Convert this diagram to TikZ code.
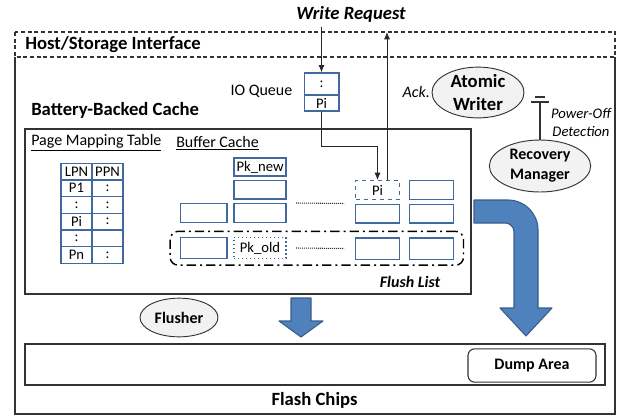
\documentclass[tikz,border=0pt]{standalone}
\usepackage{fontspec}
\setmainfont{Carlito}
\usetikzlibrary{shapes.geometric,arrows.meta,fit}

\definecolor{boxblue}{RGB}{65,105,160}
\definecolor{arrowblue}{RGB}{79,129,189}
\definecolor{arrowedge}{RGB}{56,93,138}
\definecolor{procgray}{RGB}{242,242,242}

\begin{document}
\begin{tikzpicture}[x=0.75pt,y=-0.75pt,
    arr/.style={-{Latex[length=5.5pt,width=4.5pt]}, line width=0.6pt, black!85},
    boxline/.style={line width=0.8pt, black!80},
    proc/.style={ellipse, draw=black!80, line width=0.7pt, fill=procgray, inner sep=0pt, align=center},
    buf/.style={draw=boxblue, line width=1pt, minimum width=35pt, minimum height=14pt, inner sep=0pt, font=\fontsize{11}{13}\selectfont},
    cell/.style={draw=boxblue, line width=1pt, minimum width=23.25pt, minimum height=12.5pt, inner sep=0pt, font=\fontsize{11}{13}\selectfont},
    flushlist/.style={draw=black, line width=1.1pt, rounded corners=6pt, dash pattern=on 7pt off 3pt on 1.5pt off 3pt},
    bigarrow/.style={fill=arrowblue, draw=arrowedge, line width=0.8pt, line join=round},
    dotrow/.style={black!80, line width=0.8pt, dash pattern=on 0.75pt off 0.75pt}]
  \useasboundingbox (0,0) rectangle (624,418);

  \node[font=\fontsize{14}{16}\selectfont\bfseries\itshape] (wr) at (351,14) {Write Request};

  % interface strip and controller frame
  \draw[boxline, dash pattern=on 3pt off 2pt] (15,32) rectangle (615,57);
  \draw[boxline] (15,57) -- (15,414) -- (615,414) -- (615,57);
  \node[anchor=west, inner sep=0pt, font=\fontsize{14}{16}\selectfont\bfseries] (hsi) at (25,45) {Host/Storage Interface};
  \node[anchor=west, inner sep=0pt, font=\fontsize{14}{16}\selectfont\bfseries] (bbc) at (31,110) {Battery-Backed Cache};

  % IO queue
  \node[buf, minimum width=26pt, minimum height=16.5pt] (q1) at (321.5,84) {:};
  \node[buf, minimum width=26pt, minimum height=12pt] (q2) at (321.5,103) {Pi};
  \node[anchor=east, font=\fontsize{12}{14}\selectfont] (ioq) at (297,91) {IO Queue};

  % cache area
  \draw[boxline] (25,129) rectangle (471,294);
  \node[anchor=west, inner sep=0pt, font=\fontsize{12}{14}\selectfont] (pmt) at (31,143) {\underline{Page Mapping Table}};
  \node[anchor=west, inner sep=0pt, font=\fontsize{12}{14}\selectfont] (bc) at (176,143) {\underline{Buffer Cache}};

  \node[cell] (t00) at (76.5,171.5) {LPN};
  \node[cell] (t01) at (107.5,171.5) {PPN};
  \node[cell] (t10) at (76.5,188.2) {P1};
  \node[cell] (t11) at (107.5,188.2) {:};
  \node[cell] (t20) at (76.5,204.9) {:};
  \node[cell] (t21) at (107.5,204.9) {:};
  \node[cell] (t30) at (76.5,221.6) {Pi};
  \node[cell] (t31) at (107.5,221.6) {:};
  \node[cell] (t40) at (76.5,238.3) {:};
  \node[cell] (t41) at (107.5,238.3) {};
  \node[cell] (t50) at (76.5,255) {Pn};
  \node[cell] (t51) at (107.5,255) {:};

  \node[buf, minimum width=39pt, minimum height=13.5pt] (pknew) at (260,167) {Pk\_new};
  \node[buf, minimum width=39pt] (b1) at (260,189.5) {};
  \node[buf, dashed, minimum width=33pt] (pib) at (377.5,190) {Pi};
  \node[buf, minimum width=33pt] (d1) at (431.5,190) {};
  \node[buf] (a2) at (203.5,213) {};
  \node[buf, minimum width=39pt] (b2) at (260,213) {};
  \node[buf, minimum width=33pt] (c2) at (377.5,213.5) {};
  \node[buf, minimum width=33pt] (d2) at (431.5,213.5) {};
  \node[buf, minimum height=16pt] (a3) at (203.5,248) {};
  \node[buf, dotted, minimum width=39pt, minimum height=16pt] (pkold) at (260,248) {Pk\_old};
  \node[buf, minimum width=33pt, minimum height=16pt] (c3) at (377.5,248.5) {};
  \node[buf, minimum width=33pt, minimum height=16pt] (d3) at (431.5,248.5) {};
  \draw[dotrow] ([xshift=7pt]b2.north east) -- ([xshift=-8pt]c2.north west);
  \draw[dotrow] ([xshift=7pt]pkold.east) -- ([xshift=-8pt]c3.west);

  \node[flushlist, fit=(a3)(d3), inner xsep=7pt, inner ysep=4pt] (fl) {};
  \node[font=\fontsize{12}{14}\selectfont\bfseries\itshape] (fll) at (410,282) {Flush List};

  % request path
  \coordinate (ackend) at (387,32);
  \draw[arr] (q1.north |- wr.south) -- (q1.north);
  \draw[arr] (q2.south) -- ++(0,35) -| (pib.north);
  \draw[arr] (ackend |- pib.north) -- (ackend);

  % writer and recovery
  \node[proc, minimum width=69pt, minimum height=38pt, font=\fontsize{14}{17}\selectfont\bfseries,
        label={[font=\fontsize{12}{14}\selectfont\itshape, inner sep=1pt]180:Ack.}] (aw) at (478,92.5) {Atomic\\Writer};
  \node[proc, minimum width=76pt, minimum height=39pt, font=\fontsize{12}{15}\selectfont\bfseries] (rm) at (540,166) {Recovery\\Manager};
  \coordinate (pwr) at (540,102);
  \draw[boxline] (pwr) -- (rm.north);
  \draw[boxline] ([xshift=-6.4pt]pwr) -- ([xshift=6.4pt]pwr);
  \draw[boxline] ([xshift=-3.4pt,yshift=3.75pt]pwr) -- ([xshift=3.4pt,yshift=3.75pt]pwr);
  \node[align=center, font=\fontsize{11}{13.5}\selectfont\itshape] (pod) at (581,122) {Power-Off\\Detection};

  \node[proc, minimum width=58.5pt, minimum height=29pt, font=\fontsize{12}{14}\selectfont\bfseries] (fls) at (179,317.5) {Flusher};

  % flush and dump arrows
  \draw[bigarrow] (291,298) -- (311,298) -- (311,321) -- (323,321) -- (301,337) -- (279,321) -- (291,321) -- cycle;
  \draw[bigarrow] (474,200) -- (508,200) .. controls (524.6,200) and (538,213.4) .. (538,230)
    -- (538,308) -- (552,308) -- (526,336) -- (500,308) -- (514,308) -- (514,232)
    .. controls (514,227) and (510,223) .. (505,223) -- (474,223) -- cycle;

  % flash
  \draw[boxline] (25,344) rectangle (605,385);
  \node[draw=black!80, line width=0.8pt, rounded corners=5pt, minimum width=96pt, minimum height=25pt,
        font=\fontsize{12}{14}\selectfont\bfseries] (dump) at (532,365.5) {Dump Area};
  \node[font=\fontsize{14}{16}\selectfont\bfseries] (fc) at (314.5,400) {Flash Chips};
\end{tikzpicture}
\end{document}
